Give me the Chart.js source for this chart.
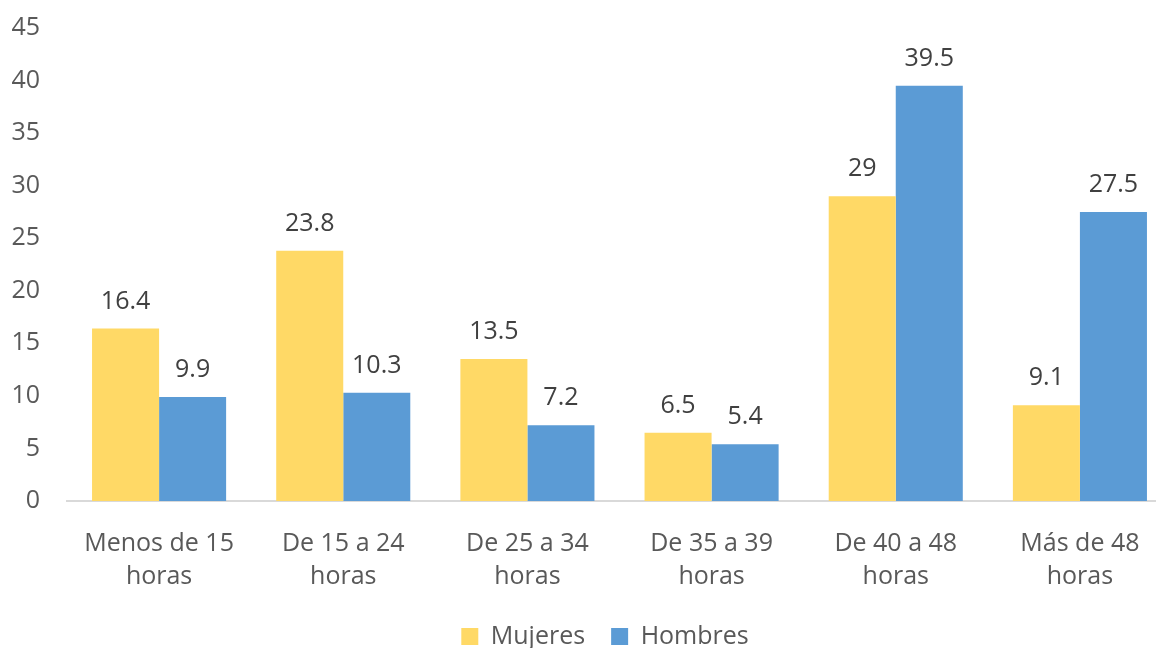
<!DOCTYPE html>
<html>
<head>
<meta charset="utf-8">
<script src="https://cdn.jsdelivr.net/npm/chart.js@4"></script>
<style>
  html, body { margin: 0; padding: 0; background: #fff; overflow: hidden; }
  /* plot runs slightly past the right edge, like the original image */
  #wrap { width: 1204px; height: 648px; }
</style>
</head>
<body>
<div id="wrap"><canvas id="horasChart"></canvas></div>
<script>
const categories = [
    ['Menos de 15', 'horas'],
    ['De 15 a 24', 'horas'],
    ['De 25 a 34', 'horas'],
    ['De 35 a 39', 'horas'],
    ['De 40 a 48', 'horas'],
    ['Más de 48', 'horas']
];
const mujeres = [16.4, 23.8, 13.5, 6.5, 29, 9.1];
const hombres = [9.9, 10.3, 7.2, 5.4, 39.5, 27.5];
const yTicks = [0, 5, 10, 15, 20, 25, 30, 35, 40, 45];

const FONT = "'Open Sans', 'Liberation Sans', sans-serif";

// value labels above each bar
const barLabels = {
    id: 'barLabels',
    afterDatasetsDraw(chart) {
        const c = chart.ctx;
        c.save();
        c.font = '25px ' + FONT;
        c.fillStyle = '#404040';
        c.textAlign = 'center';
        c.textBaseline = 'middle';
        chart.data.datasets.forEach((ds, i) => {
            chart.getDatasetMeta(i).data.forEach((bar, j) => {
                c.fillText(String(ds.data[j]), bar.x, bar.y - 27);
            });
        });
        c.restore();
    }
};

// centre the legend under the visible part of the page
const legendShift = {
    id: 'legendShift',
    afterLayout(chart) {
        chart.legend.left += 14;
        chart.legend.right += 14;
    }
};

const ctx = document.getElementById('horasChart');
new Chart(ctx, {
    type: 'bar',
    data: {
        labels: categories,
        datasets: [{
            label: 'Mujeres',
            data: mujeres,
            backgroundColor: '#FFD966',
            borderWidth: 0
        }, {
            label: 'Hombres',
            data: hombres,
            backgroundColor: '#5B9BD5',
            borderWidth: 0
        }]
    },
    options: {
        responsive: true,
        maintainAspectRatio: false,
        animation: false,
        layout: { padding: { top: 0, right: 32, left: 10, bottom: -11 } },
        datasets: {
            bar: { categoryPercentage: 0.728, barPercentage: 1.0 }
        },
        plugins: {
            legend: {
                position: 'bottom',
                labels: {
                    boxWidth: 17,
                    boxHeight: 17,
                    padding: 26,
                    color: '#595959',
                    font: { family: FONT, size: 25 }
                }
            },
            tooltip: { enabled: false }
        },
        scales: {
            x: {
                afterFit: s => { s.paddingLeft = 0; s.paddingRight = 0; s.height -= 21; },
                grid: { display: false, drawTicks: false },
                border: { color: '#D9D9D9', width: 2 },
                ticks: {
                    color: '#595959',
                    padding: 26,
                    maxRotation: 0,
                    font: { family: FONT, size: 25, lineHeight: 1.32 }
                }
            },
            y: {
                min: 0,
                max: 45,
                afterBuildTicks: axis => { axis.ticks = yTicks.map(v => ({ value: v })); },
                afterFit: s => { s.width = 57; s.paddingTop = 28; s.paddingBottom = 0; },
                grid: { display: false, drawTicks: false },
                border: { display: false },
                ticks: {
                    color: '#595959',
                    padding: 27,
                    font: { family: FONT, size: 25 }
                }
            }
        }
    },
    plugins: [barLabels, legendShift]
});
</script>
</body>
</html>
